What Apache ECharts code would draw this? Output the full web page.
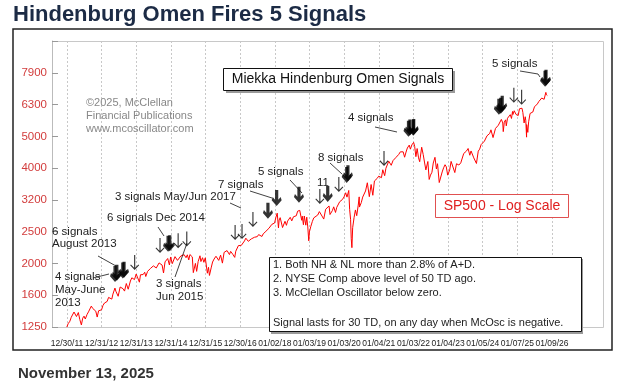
<!DOCTYPE html>
<html><head><meta charset="utf-8">
<script src="https://cdn.jsdelivr.net/npm/echarts@6/dist/echarts.min.js"></script>
<style>html,body{margin:0;padding:0;background:#fff}#c{width:626px;height:387px}</style>
</head><body><div id="c"></div>
<script>
// ---- data ----
const dates = [
'2011-12-30',
'2012-01-13','2012-01-31','2012-02-15','2012-02-29','2012-03-15','2012-03-30','2012-04-10','2012-04-30','2012-05-15','2012-06-01','2012-06-15','2012-06-29','2012-07-12','2012-07-31','2012-08-15','2012-08-31','2012-09-14','2012-09-28','2012-10-15','2012-10-31','2012-11-15','2012-11-30','2012-12-14','2012-12-31',
'2013-01-15','2013-01-31','2013-02-15','2013-02-28','2013-03-15','2013-03-29','2013-04-18','2013-04-30','2013-05-21','2013-05-31','2013-06-14','2013-06-24','2013-07-15','2013-07-31','2013-08-15','2013-08-30','2013-09-18','2013-09-30','2013-10-08','2013-10-31','2013-11-15','2013-11-29','2013-12-13','2013-12-31',
'2014-01-15','2014-02-03','2014-02-14','2014-02-28','2014-03-14','2014-03-31','2014-04-11','2014-04-30','2014-05-15','2014-05-30','2014-06-13','2014-06-30','2014-07-15','2014-07-31','2014-08-07','2014-08-29','2014-09-18','2014-09-30','2014-10-15','2014-10-31','2014-11-14','2014-11-28','2014-12-16','2014-12-29',
'2015-01-15','2015-01-30','2015-02-13','2015-02-27','2015-03-11','2015-03-31','2015-04-15','2015-04-30','2015-05-20','2015-06-09','2015-06-23','2015-07-08','2015-07-20','2015-07-31','2015-08-14','2015-08-25','2015-09-16','2015-09-29','2015-10-15','2015-11-03','2015-11-13','2015-11-30','2015-12-14','2015-12-29',
'2016-01-20','2016-02-01','2016-02-11','2016-02-29','2016-03-15','2016-03-31','2016-04-20','2016-05-19','2016-06-08','2016-06-27','2016-07-15','2016-08-15','2016-08-31','2016-09-09','2016-09-22','2016-10-14','2016-11-04','2016-11-15','2016-11-30','2016-12-13','2016-12-30',
'2017-01-13','2017-01-31','2017-02-15','2017-03-01','2017-03-15','2017-03-27','2017-04-13','2017-04-28','2017-05-17','2017-05-31','2017-06-15','2017-06-30','2017-07-14','2017-07-31','2017-08-18','2017-08-31','2017-09-15','2017-09-29','2017-10-13','2017-10-31','2017-11-15','2017-11-30','2017-12-15','2017-12-29',
'2018-01-12','2018-01-26','2018-02-08','2018-02-15','2018-02-26','2018-03-09','2018-03-23','2018-04-02','2018-04-18','2018-05-03','2018-05-15','2018-05-31','2018-06-12','2018-06-28','2018-07-16','2018-07-31','2018-08-15','2018-08-29','2018-09-20','2018-10-03','2018-10-11','2018-10-17','2018-10-29','2018-11-07','2018-11-23','2018-12-03','2018-12-14','2018-12-24','2018-12-31',
'2019-01-15','2019-01-31','2019-02-15','2019-02-28','2019-03-08','2019-03-29','2019-04-15','2019-04-30','2019-05-13','2019-05-31','2019-06-03','2019-06-20','2019-07-03','2019-07-26','2019-08-05','2019-08-15','2019-08-30','2019-09-13','2019-10-02','2019-10-15','2019-10-31','2019-11-15','2019-11-29','2019-12-13','2019-12-31',
'2020-01-17','2020-01-31','2020-02-19','2020-02-28','2020-03-09','2020-03-16','2020-03-23','2020-03-31','2020-04-15','2020-04-29','2020-05-13','2020-05-29','2020-06-08','2020-06-11','2020-06-30','2020-07-15','2020-07-31','2020-08-14','2020-09-02','2020-09-23','2020-10-12','2020-10-30','2020-11-16','2020-11-30','2020-12-15','2020-12-31',
'2021-01-15','2021-01-29','2021-02-12','2021-03-04','2021-03-17','2021-03-31','2021-04-16','2021-04-30','2021-05-12','2021-05-31','2021-06-15','2021-06-30','2021-07-15','2021-07-19','2021-07-30','2021-08-16','2021-08-31','2021-09-15','2021-09-30','2021-10-04','2021-10-15','2021-10-29','2021-11-18','2021-11-30','2021-12-15','2021-12-31',
'2022-01-03','2022-01-14','2022-01-27','2022-02-09','2022-02-24','2022-03-08','2022-03-29','2022-04-14','2022-04-29','2022-05-12','2022-05-20','2022-06-02','2022-06-16','2022-06-30','2022-07-15','2022-07-29','2022-08-16','2022-08-31','2022-09-12','2022-09-30','2022-10-12','2022-10-31','2022-11-15','2022-11-30','2022-12-13','2022-12-28',
'2023-01-05','2023-01-18','2023-02-02','2023-02-15','2023-03-13','2023-03-31','2023-04-14','2023-04-25','2023-05-15','2023-05-31','2023-06-15','2023-06-30','2023-07-14','2023-07-31','2023-08-18','2023-08-31','2023-09-14','2023-09-29','2023-10-12','2023-10-27','2023-11-15','2023-11-30','2023-12-15','2023-12-29',
'2024-01-05','2024-01-19','2024-01-31','2024-02-15','2024-02-29','2024-03-15','2024-03-28','2024-04-19','2024-04-30','2024-05-15','2024-05-31','2024-06-14','2024-06-28','2024-07-16','2024-07-31','2024-08-05','2024-08-16','2024-08-30','2024-09-06','2024-09-19','2024-09-30','2024-10-18','2024-10-31','2024-11-11','2024-11-15','2024-11-29','2024-12-06','2024-12-18','2024-12-31',
'2025-01-10','2025-01-23','2025-01-31','2025-02-19','2025-02-28','2025-03-13','2025-03-25','2025-03-31','2025-04-08','2025-04-09','2025-04-21','2025-04-30','2025-05-15','2025-05-30','2025-06-13','2025-06-30','2025-07-15','2025-07-31','2025-08-15','2025-08-29','2025-09-15','2025-09-30','2025-10-10','2025-10-28','2025-11-04','2025-11-13'
];
const spx = [
1258,
1289,1312,1351,1366,1403,1408,1358,1398,1330,1278,1342,1362,1334,1379,1405,1407,1465,1441,1440,1412,1353,1416,1413,1426,
1472,1498,1519,1515,1560,1569,1541,1598,1669,1631,1626,1573,1682,1686,1661,1633,1725,1682,1655,1757,1798,1806,1775,1848,
1848,1742,1838,1859,1841,1872,1815,1884,1870,1924,1937,1960,1973,1931,1910,2003,2011,1972,1862,2018,2039,2068,1973,2091,
1992,1995,2096,2105,2040,2068,2106,2086,2126,2080,2124,2047,2128,2104,2092,1867,1996,1884,2024,2109,2023,2080,2012,2078,
1859,1940,1829,1932,2016,2060,2102,2040,2119,2000,2162,2190,2171,2128,2177,2133,2085,2180,2199,2271,2239,
2275,2279,2349,2396,2385,2342,2329,2384,2357,2412,2432,2423,2459,2470,2426,2472,2500,2519,2553,2575,2565,2648,2676,2674,
2786,2873,2581,2732,2780,2786,2588,2582,2708,2630,2711,2705,2787,2716,2798,2816,2819,2914,2931,2926,2728,2810,2641,2814,2633,2790,2600,2351,2507,
2610,2704,2776,2784,2743,2834,2905,2946,2812,2752,2744,2954,2996,3026,2844,2848,2926,3007,2887,2995,3038,3120,3141,3169,3231,
3330,3226,3386,2954,2747,2386,2237,2585,2783,2940,2820,3044,3232,3002,3100,3227,3271,3373,3580,3237,3535,3270,3627,3622,3695,3756,
3768,3714,3934,3768,3975,3973,4185,4181,4063,4204,4246,4298,4360,4258,4395,4479,4523,4480,4308,4300,4471,4605,4704,4567,4709,4766,
4796,4662,4326,4587,4288,4170,4631,4392,4132,3930,3901,4176,3667,3785,3863,4130,4305,3955,4110,3586,3577,3872,3991,4080,4019,3783,
3808,3929,4179,4148,3855,4109,4137,4071,4136,4180,4426,4450,4505,4589,4370,4508,4505,4288,4350,4117,4502,4568,4719,4770,
4697,4840,4846,5030,5096,5117,5254,4967,5036,5308,5278,5431,5460,5667,5522,5186,5554,5648,5408,5714,5762,5864,5705,6001,5870,6032,6090,5872,5882,
5827,6118,6041,6144,5955,5521,5776,5612,4982,5457,5158,5569,5916,5912,5977,6205,6244,6339,6449,6460,6615,6688,6553,6891,6771,6737
];
const yTickLabels = ['1250','1600','2000','2500','3200','4000','5000','6300','7900'];
const xTickLabels = ['12/30/11','12/31/12','12/31/13','12/31/14','12/31/15','12/30/16','01/02/18','01/03/19','01/03/20','01/04/21','01/03/22','01/04/23','01/05/24','01/07/25','01/09/26'];

// Hindenburg Omen signal arrows: date, level of arrow tip, bold (cluster) or thin
const signalDates  = ['2013-05-22','2013-06-10','2013-08-12','2013-08-25','2013-12-15','2014-09-08','2014-12-02','2014-12-20','2015-03-18','2015-06-17','2016-11-08','2017-01-20','2017-05-15','2017-10-20','2018-01-20','2018-09-12','2019-04-20','2019-07-12','2019-11-06','2020-01-28','2020-02-10','2021-02-25','2021-11-10','2021-11-25','2021-12-30','2022-01-04','2024-06-20','2024-07-10','2024-07-25','2024-11-25','2025-02-15','2025-10-20','2025-10-30'];
const signalLevels = [1744,1760,1790,1800,1903,2153,2173,2180,2228,2255,2366,2380,2600,2756,3027,3095,3070,3117,3350,3577,3620,4046,5000,5040,5029,5060,5858,5900,5984,6389,6297,7178,7230];
const signalBold   = [1,1,1,1,0,0,1,1,0,0,0,0,0,1,1,1,0,1,0,1,1,0,1,1,1,1,1,1,1,0,0,1,1];

// ---- helpers ----
function fy(s){const p=s.split('-').map(Number);const t=Date.UTC(p[0],p[1]-1,p[2]),t0=Date.UTC(p[0],0,1),t1=Date.UTC(p[0]+1,0,1);return p[0]+(t-t0)/(t1-t0);}
function lg(v){return 10*Math.log10(v);}
const priceData = dates.map((d,i)=>[fy(d), lg(spx[i])]);
const THIN = 'path://M4.4,0 L5.6,0 L5.6,13 L9,9.6 L9.8,10.4 L5,15.2 L0.2,10.4 L1,9.6 L4.4,13 Z';
const BOLD = 'path://M3.4,0 L6.6,0 L6.6,9.2 L9,6.6 L10,9.6 L5,15 L0,9.6 L1,6.6 L3.4,9.2 Z';
const arrowData = signalDates.map((d,i)=>({value:[fy(d), lg(signalLevels[i])], symbol: signalBold[i]?BOLD:THIN, symbolSize: signalBold[i]?[10,16]:[9,15]}));

const chart = echarts.init(document.getElementById('c'), null, {renderer:'canvas'});
const F = 'Arial, "Liberation Sans", Helvetica, sans-serif';
function txt(t,x,y,size,color,weight,align){return {type:'text',z:50,style:{text:t,x:x,y:y,font:(weight||'normal')+' '+size+'px '+F,fill:color||'#222',textAlign:align||'left',textVerticalAlign:'middle'}};}
function ln(pts){return {type:'polyline',z:50,shape:{points:pts},style:{stroke:'#111',lineWidth:0.8,fill:null}};}

chart.setOption({
  animation:false,
  backgroundColor:'#fff',
  grid:{left:67,right:74,top:41,bottom:60,containLabel:false},
  xAxis:{type:'value',min:2012,max:2026,interval:1,
    axisLine:{show:false},axisTick:{show:false},
    axisLabel:{margin:12,fontSize:8.5,color:'#222',fontFamily:F,formatter:v=>xTickLabels[Math.round(v-2012)]||''},
    splitLine:{show:true,lineStyle:{color:'#c8c8c8',type:[2,2],width:1}}},
  yAxis:{type:'value',min:31,max:40,interval:1,offset:15,
    axisLine:{show:true,lineStyle:{color:'#bbb'}},
    axisTick:{show:true,inside:true,length:6,lineStyle:{color:'#999'}},
    axisLabel:{margin:5,fontSize:11.5,color:'#d23c3c',fontFamily:F,
      formatter:v=>{const i=Math.round(v-31);return (i>=0&&i<yTickLabels.length)?yTickLabels[i]:'';}},
    splitLine:{show:false}},
  series:[
    {type:'line',data:priceData,symbol:'none',lineStyle:{color:'#ff0000',width:1},z:3},
    {type:'scatter',data:arrowData,symbolOffset:[0,'-50%'],itemStyle:{color:'#000'},z:4}
  ],
  graphic:[
    {type:'rect',z:0,shape:{x:13,y:29,width:599,height:321},style:{fill:null,stroke:'#222',lineWidth:1.5}},
    {type:'rect',z:0,shape:{x:52.5,y:41.5,width:551,height:286},style:{fill:null,stroke:'#c8c8c8',lineWidth:1}},
    txt('Hindenburg Omen Fires 5 Signals',13,15,22,'#1c2b45','bold'),
    txt('November 13, 2025',18,374,15,'#333','bold'),
    // legend box
    {type:'rect',z:49,shape:{x:226,y:71,width:229,height:22},style:{fill:'#9a9a9a'}},
    {type:'rect',z:49,shape:{x:223.5,y:68.5,width:229,height:22},style:{fill:'#fff',stroke:'#111',lineWidth:1}},
    txt('Miekka Hindenburg Omen Signals',338,79.5,14,'#111','normal','center'),
    // copyright
    txt('©2025, McClellan',86,103,11,'#888'),
    txt('Financial Publications',86,116,11,'#888'),
    txt('www.mcoscillator.com',86,129,11,'#888'),
    // SP500 box
    {type:'rect',z:49,shape:{x:435.5,y:194.5,width:133,height:23},style:{fill:'#fff',stroke:'#e05050',lineWidth:1}},
    txt('SP500 - Log Scale',502,206,14,'#e02020','normal','center'),
    // condition box
    {type:'rect',z:49,shape:{x:271,y:259,width:312,height:75},style:{fill:'#9a9a9a'}},
    {type:'rect',z:49,shape:{x:269.5,y:257.5,width:312,height:74},style:{fill:'#fff',stroke:'#111',lineWidth:1}},
    txt('1. Both NH & NL more than 2.8% of A+D.',273,265,11,'#222'),
    txt('2. NYSE Comp above level of 50 TD ago.',273,279,11,'#222'),
    txt('3. McClellan Oscillator below zero.',273,293,11,'#222'),
    txt('Signal lasts for 30 TD, on any day when McOsc is negative.',273,323,11,'#222'),
    // annotations
    txt('4 signals',55,277,11.5),txt('May-June',55,290,11.5),txt('2013',55,303,11.5),
    ln([[93,278],[109,274]]),
    txt('6 signals',52,232,11.5),txt('August 2013',52,244,11.5),
    ln([[98,256],[116,266]]),
    txt('6 signals Dec 2014',107,218,11.5),
    ln([[158,227],[164,236]]),
    txt('3 signals May/Jun 2017',115,197,11.5),
    ln([[230,203],[241,208]]),
    txt('3 signals',156,284,11.5),txt('Jun 2015',156,297,11.5),
    ln([[175,277],[187,243]]),
    txt('7 signals',218,185,11.5),
    ln([[250,191],[272,198]]),
    txt('5 signals',258,172,11.5),
    ln([[290,180],[302,193]]),
    txt('11',317,183,11.5),
    txt('8 signals',318,158,11.5),
    ln([[330,163],[342,174]]),
    txt('4 signals',348,118,11.5),
    ln([[375,127],[397,132]]),
    txt('5 signals',492,64,11.5),
    ln([[520,71],[538,74],[540,77]])
  ]
});
</script></body></html>
